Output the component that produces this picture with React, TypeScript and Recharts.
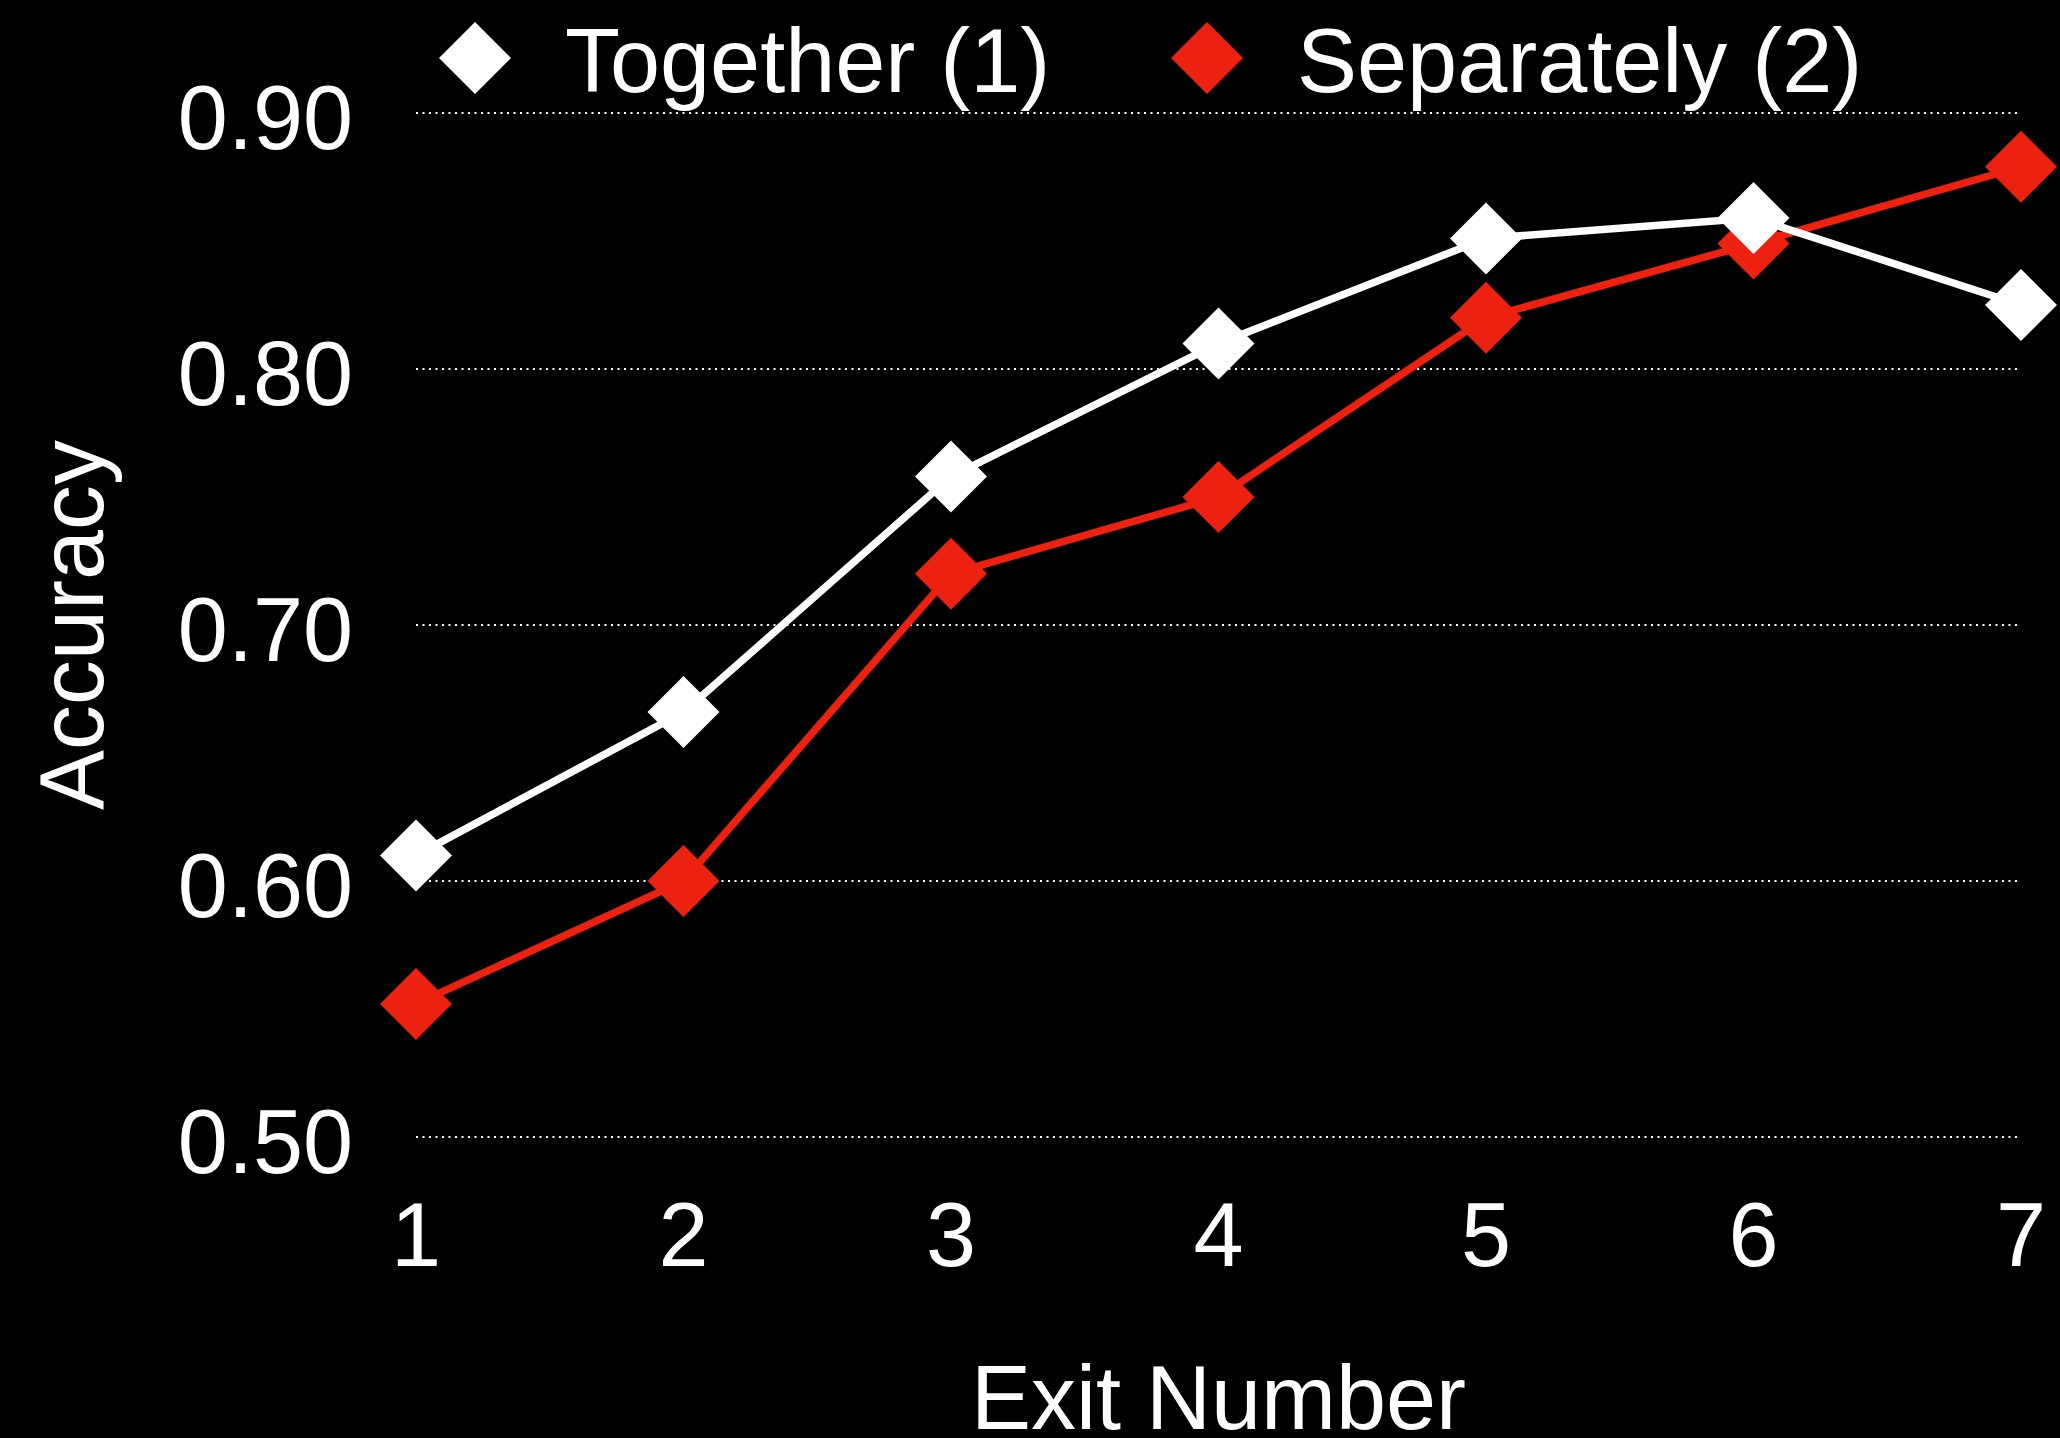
import React from 'react';
import {
  LineChart,
  Line,
  XAxis,
  YAxis,
  CartesianGrid,
  Legend
} from 'recharts';

const exitNumbers = ['1', '2', '3', '4', '5', '6', '7'];
const togetherAcc = [0.61, 0.666, 0.758, 0.81, 0.851, 0.859, 0.825];
const separatelyAcc = [0.552, 0.6, 0.72, 0.75, 0.82, 0.849, 0.879];
const yTicks = [0.5, 0.6, 0.7, 0.8, 0.9];
const seriesNames = ['Together (1)', 'Separately (2)'];
const seriesColors = ['#ffffff', '#ed2110'];

const FONT = '"Liberation Sans", Arial, Helvetica, sans-serif';
const W = 2060;
const H = 1438;

const chartData = exitNumbers.map((exit, i) => ({
  exit,
  together: togetherAcc[i],
  separately: separatelyAcc[i]
}));

// rotated-square marker, same as the keynote diamonds
const diamondPath = (cx: number, cy: number, r: number) =>
  `M${cx},${cy - r} L${cx + r},${cy} L${cx},${cy + r} L${cx - r},${cy} Z`;

const makeDot = (color: string) => (props: any) => {
  const { cx, cy, index } = props;
  if (cx == null || cy == null) return <g key={`d-${index}`} />;
  return <path key={`d-${index}`} d={diamondPath(cx, cy, 36)} fill={color} />;
};

// legend drawn in one svg strip above the plot
const legendX = [475, 1207];
const LegendStrip = () => (
  <svg width={W} height={113} style={{ display: 'block' }}>
    {seriesNames.map((name, i) => (
      <g key={name}>
        <path d={diamondPath(legendX[i], 58, 36)} fill={seriesColors[i]} />
        <text
          x={legendX[i] + 90}
          y={92}
          fill="#ffffff"
          fontSize={90}
          fontFamily={FONT}
        >
          {name}
        </text>
      </g>
    ))}
  </svg>
);

const YTitle = ({ viewBox }: any) => {
  const x = viewBox.x + 103;
  const y = viewBox.y + viewBox.height / 2;
  return (
    <text
      x={x}
      y={y}
      transform={`rotate(-90 ${x} ${y})`}
      textAnchor="middle"
      fill="#ffffff"
      fontSize={90}
      fontFamily={FONT}
    >
      Accuracy
    </text>
  );
};

const XTitle = ({ viewBox }: any) => (
  <text
    x={viewBox.x + viewBox.width / 2}
    y={viewBox.y + viewBox.height - 9}
    textAnchor="middle"
    fill="#ffffff"
    fontSize={90}
    fontFamily={FONT}
  >
    Exit Number
  </text>
);

export default function App() {
  return (
    <div
      style={{
        position: 'absolute',
        left: 0,
        top: 0,
        width: W,
        height: H,
        background: '#000000',
        overflow: 'hidden'
      }}
    >
      <LineChart
        width={W}
        height={H}
        data={chartData}
        margin={{ top: 0, right: 39, bottom: 0, left: 0 }}
      >
        <CartesianGrid
          vertical={false}
          stroke="#ffffff"
          strokeWidth={2}
          strokeDasharray="2 4.5"
        />
        <XAxis
          dataKey="exit"
          height={301}
          axisLine={false}
          tickLine={false}
          tickSize={0}
          tickMargin={65}
          interval={0}
          tick={{ fill: '#ffffff', fontSize: 90, fontFamily: FONT }}
          label={<XTitle />}
        />
        <YAxis
          width={416}
          domain={[0.5, 0.9]}
          ticks={yTicks}
          axisLine={false}
          tickLine={false}
          tickSize={0}
          tickMargin={63}
          tickFormatter={(v: number) => v.toFixed(2)}
          tick={{ fill: '#ffffff', fontSize: 90, fontFamily: FONT, dy: 4 }}
          label={<YTitle />}
        />
        <Legend
          verticalAlign="top"
          wrapperStyle={{ left: 0, top: 0, width: W, height: 113 }}
          content={() => <LegendStrip />}
        />
        <Line
          dataKey="separately"
          name={seriesNames[1]}
          stroke={seriesColors[1]}
          strokeWidth={7.5}
          dot={makeDot(seriesColors[1])}
          activeDot={false}
          isAnimationActive={false}
        />
        <Line
          dataKey="together"
          name={seriesNames[0]}
          stroke={seriesColors[0]}
          strokeWidth={7.5}
          dot={makeDot(seriesColors[0])}
          activeDot={false}
          isAnimationActive={false}
        />
      </LineChart>
    </div>
  );
}
